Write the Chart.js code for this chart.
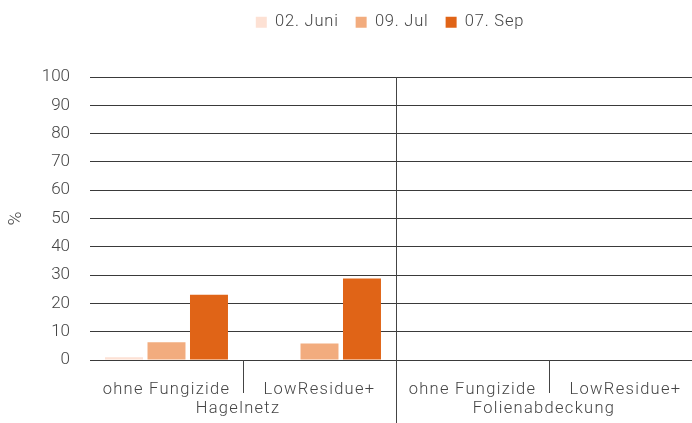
<!DOCTYPE html>
<html><head><meta charset="utf-8">
<script src="https://cdn.jsdelivr.net/npm/chart.js@4/dist/chart.umd.min.js"></script>
<style>
html,body{margin:0;padding:0;background:#fff;overflow:hidden;width:692px;height:423px;}
#wrap{width:702px;height:423px;}
</style></head>
<body><div id="wrap"><canvas id="c" width="702" height="423"></canvas></div>
<script>
const categories = ['ohne Fungizide','LowResidue+','ohne Fungizide','LowResidue+'];
const groups = ['Hagelnetz','Folienabdeckung'];
const seriesNames = ['02. Juni','09. Jul','07. Sep'];
const juni = [1.0, 0, 0, 0];
const jul = [6.3, 5.8, 0, 0];
const sep = [23.1, 28.8, 0, 0];
const yTicks = [0,10,20,30,40,50,60,70,80,90,100];
const colors = ['#fde1d4','#f2ac7e','#e06417'];

const FONT = 'Roboto';
const TXT = '#444444';
const FS = 16.5;

const decor = {
  id:'decor',
  afterLayout(chart){
    const xs = chart.scales.x;
    if(xs && !xs._lsWrapped){
      const orig = xs.drawLabels;
      xs.drawLabels = function(a){
        this.ctx.save(); this.ctx.letterSpacing = '1.3px';
        orig.call(this, a); this.ctx.restore();
      };
      xs._lsWrapped = true;
    }
  },
  afterDraw(chart){
    const ctx = chart.ctx, xs = chart.scales.x, ca = chart.chartArea;
    ctx.save();
    ctx.strokeStyle = '#444';
    ctx.lineWidth = 1;
    for(let i=1;i<categories.length;i++){
      const bx = Math.round((xs.getPixelForValue(i-1)+xs.getPixelForValue(i))/2)+0.5;
      ctx.beginPath();
      if(i===2){ ctx.moveTo(bx, ca.top); ctx.lineTo(bx, chart.height); }
      else { ctx.moveTo(bx, ca.bottom); ctx.lineTo(bx, ca.bottom+33); }
      ctx.stroke();
    }
    ctx.fillStyle = TXT;
    ctx.font = '300 ' + FS + 'px ' + FONT;
    ctx.letterSpacing = '1.3px';
    ctx.textAlign = 'center';
    ctx.textBaseline = 'middle';
    groups.forEach((g,gi)=>{
      const cx = (xs.getPixelForValue(gi*2)+xs.getPixelForValue(gi*2+1))/2 - 5;
      ctx.fillText(g, cx, 409);
    });
    ctx.restore();
  }
};

const legendFit = {
  id:'legendFit',
  afterInit(chart){
    const lg = chart.legend;
    const origFit = lg.fit;
    lg.fit = function(){
      this.ctx.save(); this.ctx.letterSpacing = '0.8px';
      origFit.call(this);
      this.ctx.restore();
      this.height = 77;
    };
    const origDraw = lg.draw;
    lg.draw = function(){
      this.ctx.save(); this.ctx.letterSpacing = '0.8px';
      this.ctx.translate(-6, -3);
      origDraw.call(this);
      this.ctx.restore();
    };
  }
};

const datasets = [juni, jul, sep].map((d,i)=>({
  label: seriesNames[i], data: d, backgroundColor: colors[i], borderWidth:0,
  categoryPercentage:0.833, barPercentage:0.894
}));

new Chart(document.getElementById('c'), {
  type:'bar',
  data:{labels:categories, datasets},
  plugins:[decor, legendFit],
  options:{
    responsive:false, animation:false, devicePixelRatio:1,
    layout:{padding:0},
    plugins:{
      legend:{display:true, position:'top', fullSize:false,
        labels:{boxWidth:11, boxHeight:11, padding:17, color:TXT,
          font:{family:FONT, size:FS, weight:'300'}}},
      tooltip:{enabled:false}
    },
    scales:{
      x:{
        grid:{display:false, drawTicks:false},
        border:{display:false},
        ticks:{color:TXT, padding:20, maxRotation:0, autoSkip:false,
          font:{family:FONT, size:FS, weight:'300'}},
        afterFit(s){ s.height = 63; }
      },
      y:{
        min:0, max:100,
        afterBuildTicks(s){ s.ticks = yTicks.map(v=>({value:v})); },
        grid:{color:'#3a3a3a', lineWidth:1, drawTicks:false},
        border:{display:false},
        ticks:{color:TXT, padding:20, font:{family:FONT, size:17, weight:'300'}},
        title:{display:true, text:'%', color:TXT, padding:{top:5,bottom:0},
          font:{family:FONT, size:19, weight:'300'}},
        afterFit(s){ s.width = 90; }
      }
    }
  }
});
</script></body></html>
